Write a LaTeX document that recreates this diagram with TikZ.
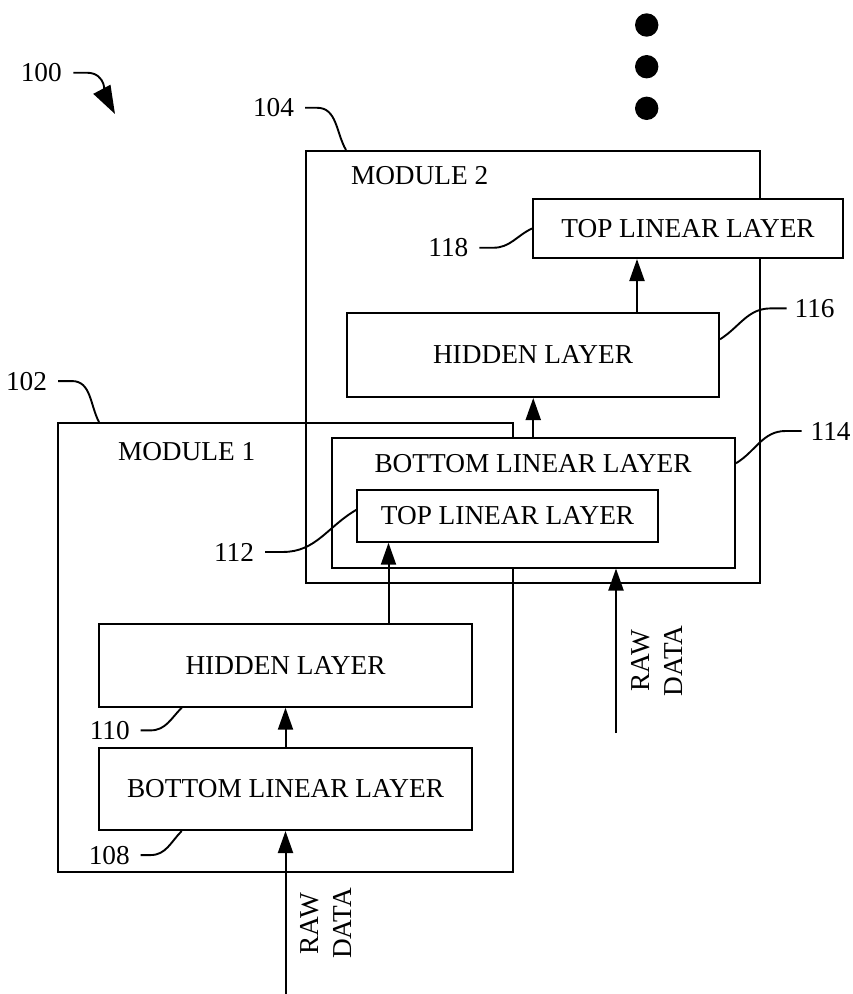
\documentclass[tikz,border=0pt]{standalone}
\usepackage{fontspec}
\setmainfont{Liberation Serif}
\usetikzlibrary{arrows.meta,calc}

\begin{document}
\begin{tikzpicture}[x=1pt,y=1pt,font=\fontsize{27.3}{33}\selectfont,line width=2pt]
\tikzset{mod/.style={draw,inner sep=0pt}, box/.style={draw,fill=white,inner sep=0pt,align=center}, txt/.style={inner sep=0pt,anchor=base west}, num/.style={inner sep=0pt}, arr/.style={-{Triangle[length=22pt,width=15pt]}}, lead/.style={line width=1.9pt}, dot/.style={circle,fill,inner sep=0pt,minimum size=23.4pt}}
\useasboundingbox (0,0) rectangle (853,-994);
\node[mod,minimum width=454pt,minimum height=432pt] (m2) at (533,-367) {};
\node[mod,minimum width=455pt,minimum height=449pt] (m1) at (285.5,-647.5) {};
\node[box,minimum width=310pt,minimum height=59pt] (top2) at (688,-228.5) {TOP LINEAR LAYER};
\node[box,minimum width=372pt,minimum height=84pt] (hid2) at (533,-355) {HIDDEN LAYER};
\node[box,minimum width=403.5pt,minimum height=129.5pt] (bot2) at (533.25,-502.75) {};
\node[inner sep=0pt,anchor=base] (bot2txt) at (533,-472) {BOTTOM LINEAR LAYER};
\node[box,minimum width=300.4pt,minimum height=51.7pt] (top1) at (507.5,-515.85) {TOP LINEAR LAYER};
\node[box,minimum width=372.4pt,minimum height=82.7pt] (hid1) at (285.5,-665.35) {HIDDEN LAYER};
\node[box,minimum width=372.4pt,minimum height=82.3pt] (bot1) at (285.5,-788.85) {BOTTOM LINEAR LAYER};
\node[txt] (m2txt) at (350,-184) {MODULE 2};
\node[txt] (m1txt) at (117,-460) {MODULE 1};
\foreach \i/\y in {1/25,2/66.7,3/108.3} \node[dot] (dot\i) at (646.7,-\y) {};
\node[num,anchor=base east] (n100) at (62.7,-81.7) {100};
\node[num,anchor=base east] (n104) at (295,-116.7) {104};
\node[num,anchor=base east] (n102) at (48,-390) {102};
\node[num,anchor=base east] (n118) at (469.3,-256.7) {118};
\node[num,anchor=base east] (n112) at (255,-561) {112};
\node[num,anchor=base east] (n110) at (130.7,-739.3) {110};
\node[num,anchor=base east] (n108) at (130.7,-864) {108};
\node[num,anchor=base west] (n116) at (793.7,-317.3) {116};
\node[num,anchor=base west] (n114) at (809.7,-440) {114};
\coordinate (a100) at (115,-114);
\draw[lead,-{Triangle[length=28pt,width=19pt]}] ([xshift=10.6pt]n100.east) -- ++(14,0) to[out=0,in=118] (a100);
\draw[lead] ([xshift=10pt]n104.east) -- ++(12,0) to[out=0,in=120] ([xshift=41pt]m2.north west);
\draw[lead] ([xshift=10pt]n102.east) -- ++(14,0) to[out=0,in=118] ([xshift=42pt]m1.north west);
\draw[lead] ([xshift=10pt]n118.east) -- ++(14,0) to[out=0,in=205] (top2.west);
\draw[lead] ([xshift=10pt]n112.east) -- ++(18,0) to[out=0,in=210] ([yshift=6pt]top1.west);
\draw[lead] ([xshift=10pt]n110.east) -- ++(10,0) to[out=0,in=225] ([xshift=83.4pt]hid1.south west);
\draw[lead] ([xshift=10pt]n108.east) -- ++(10,0) to[out=0,in=225] ([xshift=83.4pt]bot1.south west);
\draw[lead] ([xshift=-7pt]n116.west) -- ++(-16,0) to[out=180,in=32] ([yshift=15.7pt]hid2.east);
\draw[lead] ([xshift=-8pt]n114.west) -- ++(-16,0) to[out=180,in=31] ([yshift=39.5pt]bot2.east);
\draw[arr] ([xshift=-51pt]top2.south |- hid2.north) -- ([xshift=-51pt]top2.south);
\draw[arr] (bot2.north) -- (bot2.north |- hid2.south);
\draw[arr] ([xshift=-119pt]top1.south |- hid1.north) -- ([xshift=-119pt]top1.south);
\draw[arr] (bot1.north) -- (hid1.south);
\coordinate (raw1) at (285.5,-994);
\coordinate (raw2) at (616,-733);
\draw[arr] (raw1) -- (bot1.south);
\draw[arr] (raw2) -- (raw2 |- bot2.south);
\node[rotate=90,align=center,inner sep=0pt] (rd1) at (326.5,-923.5) {RAW\\DATA};
\node[rotate=90,align=center,inner sep=0pt] (rd2) at (656.7,-660.8) {RAW\\DATA};
\end{tikzpicture}
\end{document}
